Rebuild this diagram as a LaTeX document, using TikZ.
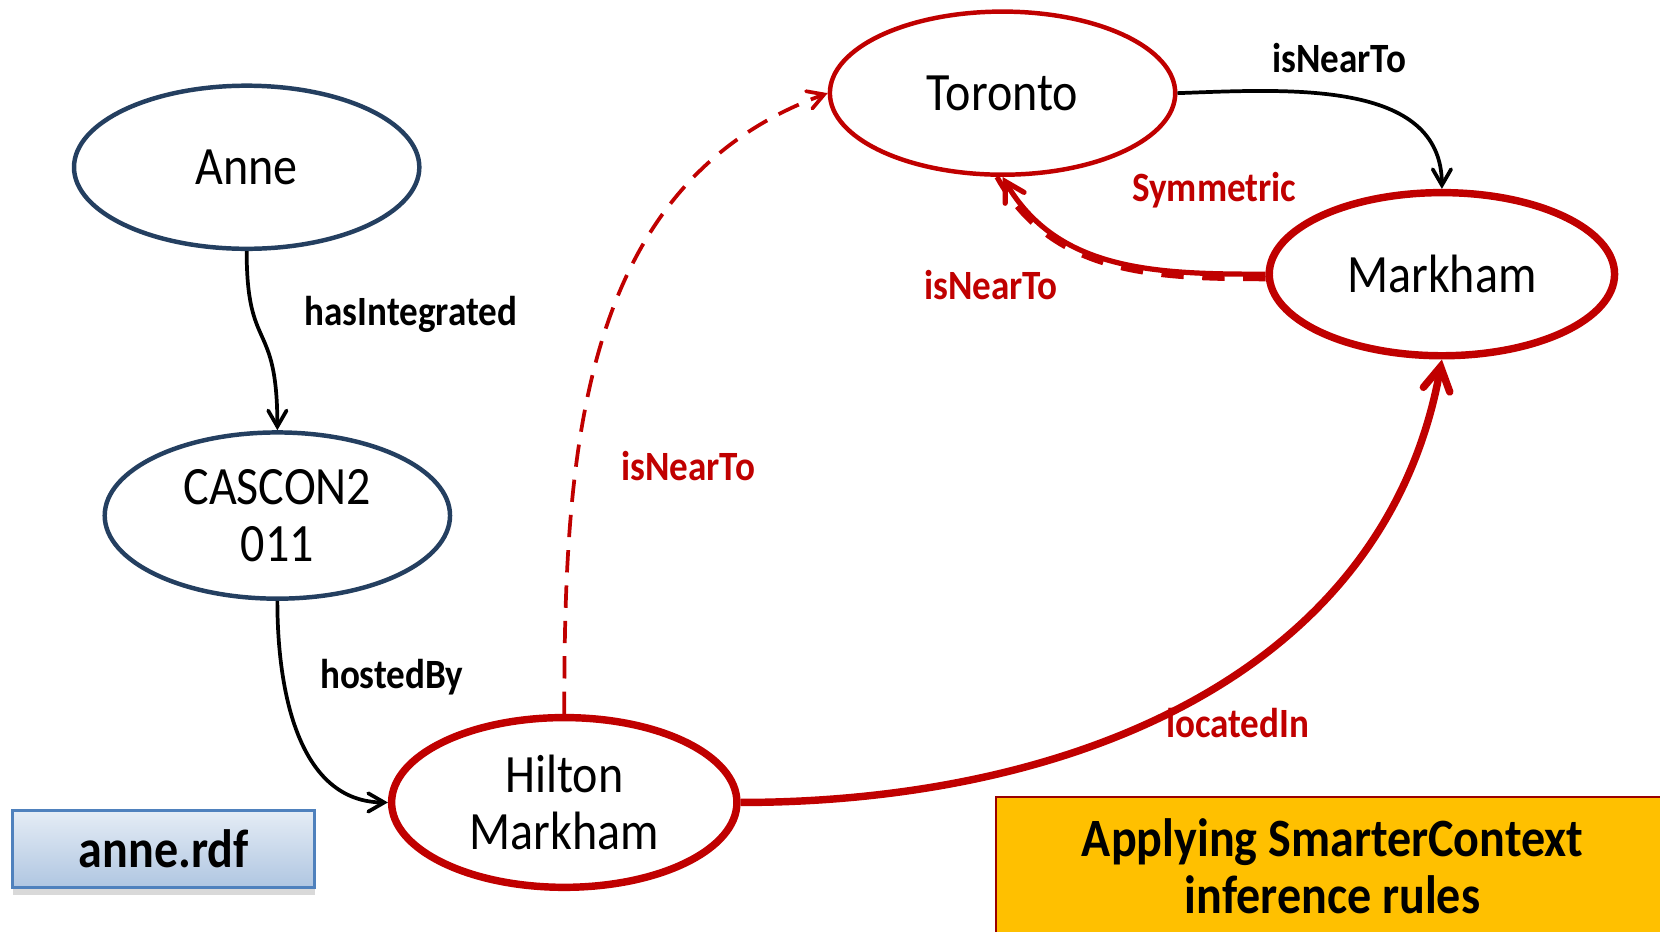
\documentclass[tikz,border=0pt]{standalone}
\usepackage{fontspec}
\setmainfont{Carlito}[FakeStretch=0.89]
\usetikzlibrary{shapes,arrows,shadows}
\definecolor{navy}{HTML}{243F60}
\definecolor{darkred}{HTML}{C00000}
\definecolor{gold}{HTML}{FFC000}
\definecolor{rdfblue}{HTML}{4F81BD}
\begin{document}
\begin{tikzpicture}[x=0.01cm, y=-0.01cm, >=angle 60]
	% Define block styles
	\tikzstyle{entity} = [ellipse, draw=navy, fill=white, line width=1.2pt, minimum width=3.26cm, minimum height=1.54cm, align=center, font=\fontsize{14.5}{15.4}\selectfont]
	\tikzstyle{place} = [entity, draw=darkred]
	\tikzstyle{hotplace} = [place, line width=2pt]
	\tikzstyle{prop} = [font=\bfseries\fontsize{11.2}{12}\selectfont]
	\tikzstyle{inferred} = [prop, text=darkred]
	\tikzstyle{line} = [draw, ->, line width=1pt]
	\tikzstyle{redline} = [draw=darkred, ->, line width=1pt]

	\useasboundingbox (0,0) rectangle (1568,880);

	% Nodes
	\node [entity] (anne) at (233,158) {Anne};
	\node [entity] (cascon) at (262,487) {CASCON2\\011};
	\node [hotplace] (hilton) at (533,758) {Hilton\\Markham};
	\node [place] (toronto) at (947,88) {Toronto};
	\node [hotplace] (markham) at (1362,259) {Markham};

	\node [draw=rdfblue, line width=0.8pt, top color=rdfblue!15, bottom color=rdfblue!45, drop shadow={opacity=0.3, shadow xshift=0pt, shadow yshift=-2pt}, minimum width=2.85cm, minimum height=0.72cm, font=\bfseries\fontsize{14.5}{16}\selectfont] (rdf) at (154.5,802) {anne.rdf};
	\node [draw=darkred!80!black, line width=0.6pt, fill=gold, minimum width=6.35cm, minimum height=1.3cm, align=center, font=\bfseries\fontsize{14.5}{15.2}\selectfont, anchor=north west] (rules) at (940,752) {Applying SmarterContext\\inference rules};

	% Labels
	\node [prop] (lintegrated) at (388,297) {hasIntegrated};
	\node [prop] (lhosted) at (370,640) {hostedBy};
	\node [prop] (lnear) at (1265,55) {isNearTo};
	\node [inferred] (lsym) at (1147,180) {Symmetric};
	\node [inferred] (lnearback) at (936,269) {isNearTo};
	\node [inferred] (lnearhilton) at (650,440) {isNearTo};
	\node [inferred] (llocated) at (1169,683) {locatedIn};

	% Connecting lines
	\path [line] (anne.south) .. controls (233,335) and (262,300) .. (cascon.north);
	\path [line] (cascon.south) to[out=-90, in=180] (hilton.west);
	\path [line] (toronto.east) to[out=2, in=90] (markham.north);
	\path [redline, dash pattern=on 6pt off 3.5pt] (hilton.north) to[out=90, in=200] (toronto.west);
	\path [redline, line width=2pt] (hilton.east) to[out=0, in=-100] (markham.south);
	\path [redline, line width=1.4pt] (markham.west) to[out=180, in=-60] (toronto.south);
	\path [draw=darkred, line width=1.4pt, dash pattern=on 6pt off 5pt] ([yshift=-1.2pt]markham.west) to[out=180, in=-61] ([xshift=-1.5pt]toronto.south);
\end{tikzpicture}
\end{document}
